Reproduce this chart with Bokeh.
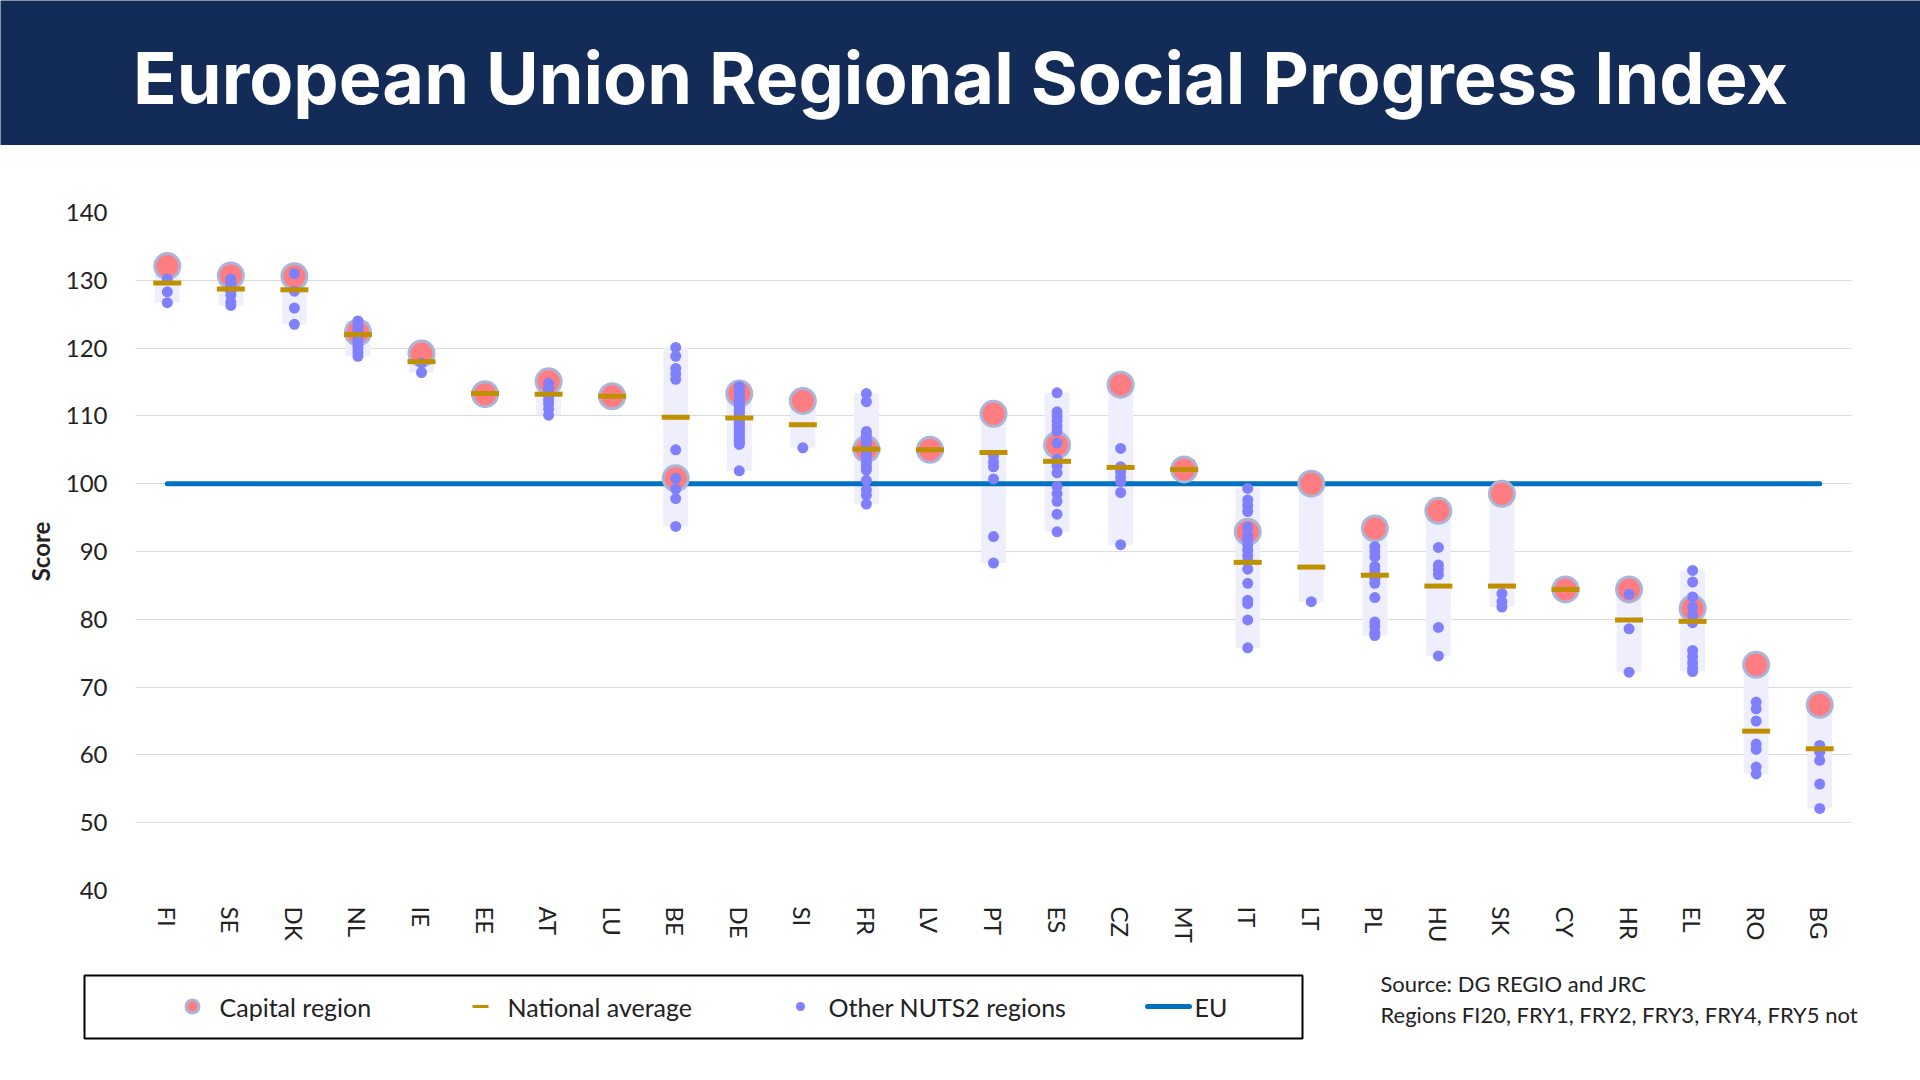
from bokeh.plotting import figure
from bokeh.models import Range1d, FactorRange, ColumnDataSource, Label, FixedTicker
from bokeh.layouts import column
from bokeh.embed import file_html
from bokeh.resources import INLINE

# ---------------- data ----------------
countries = ["FI", "SE", "DK", "NL", "IE", "EE", "AT", "LU", "BE", "DE", "SI", "FR", "LV", "PT",
             "ES", "CZ", "MT", "IT", "LT", "PL", "HU", "SK", "CY", "HR", "EL", "RO", "BG"]

capital_region = [132.1, 130.7, 130.6, 122.3, 119.2, 113.2, 115.1, 112.9, 100.8, 113.3, 112.2, 105.1,
                  105.0, 110.3, 105.7, 114.6, 102.1, 92.9, 100.0, 93.4, 96.0, 98.5, 84.4, 84.4, 81.6,
                  73.3, 67.4]

national_average = [129.6, 128.7, 128.6, 122.0, 118.0, 113.3, 113.2, 112.9, 109.8, 109.7, 108.7, 105.1,
                    105.0, 104.6, 103.3, 102.4, 102.1, 88.4, 87.7, 86.5, 84.9, 84.9, 84.4, 79.9, 79.7,
                    63.5, 60.9]

other_regions = [
    [130.2, 128.3, 126.7],                                                      # FI
    [130.2, 129.8, 129.2, 128.4, 127.8, 126.8, 126.3],                          # SE
    [131.0, 128.4, 125.9, 123.5],                                               # DK
    [124.0, 123.5, 123.0, 122.5, 122.0, 121.5, 121.0, 120.5, 120.0, 119.4, 118.8],  # NL
    [117.8, 116.4],                                                             # IE
    [],                                                                         # EE
    [114.8, 114.2, 113.6, 113.0, 112.4, 111.8, 111.0, 110.1],                   # AT
    [],                                                                         # LU
    [120.1, 118.8, 117.0, 116.2, 115.4, 105.0, 100.8, 99.2, 97.8, 93.7],        # BE
    [114.3, 114.0, 113.6, 113.2, 112.9, 112.6, 112.3, 112.0, 111.8, 111.5, 111.2, 111.0,
     110.7, 110.4, 110.1, 109.8, 109.5, 109.2, 108.9, 108.6, 108.3, 108.0, 107.7, 107.4,
     107.1, 106.8, 106.5, 106.2, 106.0, 105.8, 101.9],                          # DE
    [105.3],                                                                    # SI
    [113.3, 112.1, 107.7, 107.2, 106.6, 106.0, 105.4, 104.8, 104.2, 103.6, 103.0, 102.4,
     102.0, 100.5, 99.1, 98.3, 97.0],                                           # FR
    [],                                                                         # LV
    [104.1, 103.2, 102.5, 100.7, 92.2, 88.3],                                   # PT
    [113.4, 110.6, 110.0, 109.3, 108.5, 107.8, 106.0, 103.6, 102.6, 101.6, 99.6, 98.5,
     97.4, 95.5, 92.9],                                                         # ES
    [105.2, 102.5, 101.8, 101.0, 100.3, 98.7, 91.0],                            # CZ
    [],                                                                         # MT
    [99.3, 97.6, 96.8, 95.9, 93.6, 92.4, 91.8, 91.0, 90.2, 89.4, 88.6, 87.4, 85.3, 82.8,
     82.3, 79.9, 75.8],                                                         # IT
    [82.6],                                                                     # LT
    [90.7, 90.0, 89.2, 87.8, 87.3, 86.7, 86.0, 85.3, 83.2, 79.6, 78.9, 78.0, 77.6],  # PL
    [90.6, 88.0, 87.3, 86.6, 78.8, 74.6],                                       # HU
    [83.8, 82.6, 81.8],                                                         # SK
    [],                                                                         # CY
    [83.7, 78.6, 72.2],                                                         # HR
    [87.2, 85.5, 83.3, 81.8, 80.6, 79.5, 75.4, 74.5, 73.6, 72.8, 72.3],         # EL
    [67.8, 66.8, 65.0, 61.6, 60.8, 58.2, 57.2],                                 # RO
    [61.4, 60.4, 59.2, 55.7, 52.1],                                             # BG
]

eu_value = 100
y_ticks = [40, 50, 60, 70, 80, 90, 100, 110, 120, 130, 140]

title_text = "European Union Regional Social Progress Index"
legend_labels = ["Capital region", "National average", "Other NUTS2 regions", "EU"]
source_lines = ["Source: DG REGIO and JRC", "Regions FI20, FRY1, FRY2, FRY3, FRY4, FRY5 not"]

# ---------------- styles ----------------
W = 1920
HH, MH, FH = 145, 810, 125
NAVY = "#132B57"
CAP_FILL = "#FF7C80"
CAP_RING = "#A9B6DA"
DOT = "#8080FF"
GOLD = "#BF9000"
EU_BLUE = "#0070C0"
BAR = "#EEEEFC"
FONT = "Lato"
TXT = "#222222"

# ---------------- header ----------------
head = figure(width=W, height=HH, x_range=Range1d(0, W), y_range=Range1d(0, HH),
              toolbar_location=None, output_backend="svg", x_axis_location=None,
              y_axis_location=None, min_border=0, outline_line_color=None,
              background_fill_color=NAVY, border_fill_color=NAVY)
head.frame_align = False
head.grid.visible = False
head.add_layout(Label(x=W / 2, y=68, text=title_text,
                      text_color="white", text_font="Inter", text_font_style="bold",
                      text_font_size="72px", text_align="center", text_baseline="alphabetic"))

# ---------------- main chart ----------------
lo = [min([c] + o) for c, o in zip(capital_region, other_regions)]
hi = [max([c] + o) for c, o in zip(capital_region, other_regions)]
src = ColumnDataSource(dict(country=countries, cap=capital_region, nat=national_average, lo=lo, hi=hi))

ox, oy = [], []
for c, vals in zip(countries, other_regions):
    for v in vals:
        ox.append(c)
        oy.append(v)

p = figure(width=W, height=MH, x_range=FactorRange(*countries, range_padding=0),
           y_range=Range1d(40, 140), toolbar_location=None, output_backend="svg",
           min_border_left=135, min_border_right=69, min_border_top=67, min_border_bottom=65,
           outline_line_color=None)
p.frame_align = False

p.vbar(x="country", bottom="lo", top="hi", width=0.39, source=src, fill_color=BAR,
       line_color=None)
p.line(x=[countries[0], countries[-1]], y=[eu_value, eu_value], line_color=EU_BLUE,
       line_width=5, line_cap="round")
p.scatter(x="country", y="cap", source=src, size=25, fill_color=CAP_FILL,
          line_color=CAP_RING, line_width=3)
p.scatter(x=ox, y=oy, size=11, fill_color=DOT, line_color=None)
p.rect(x="country", y="nat", width=0.44, height=5, height_units="screen", source=src,
       fill_color=GOLD, line_color=None)

p.xgrid.visible = False
p.ygrid.grid_line_color = "#DCDCDC"
p.ygrid.grid_line_width = 1
p.yaxis.ticker = FixedTicker(ticks=y_ticks)
for ax in (p.xaxis, p.yaxis):
    ax.axis_line_color = None
    ax.major_tick_line_color = None
    ax.minor_tick_line_color = None
    ax.major_label_text_font = FONT
    ax.major_label_text_font_size = "24px"
    ax.major_label_text_color = TXT
p.yaxis.major_label_standoff = 22
p.yaxis.axis_label = "Score"
p.yaxis.axis_label_text_font = FONT
p.yaxis.axis_label_text_font_style = "bold"
p.yaxis.axis_label_text_font_size = "24px"
p.yaxis.axis_label_text_color = TXT
p.yaxis.axis_label_standoff = 8
p.xaxis.major_label_orientation = "vertical"
p.xaxis.major_label_standoff = 10

# ---------------- footer: legend + source ----------------
foot = figure(width=W, height=FH, x_range=Range1d(0, W), y_range=Range1d(0, FH),
              toolbar_location=None, output_backend="svg", x_axis_location=None,
              y_axis_location=None, min_border=0, outline_line_color=None)
foot.frame_align = False
foot.grid.visible = False
foot.quad(left=[84], right=[1302], bottom=[42], top=[105], fill_color=None,
          line_color="black", line_width=2)
ly = 74
foot.scatter(x=[192], y=[ly], size=13, fill_color=CAP_FILL, line_color=CAP_RING, line_width=3)
foot.rect(x=[480], y=[ly], width=16, height=3, fill_color=GOLD, line_color=None)
foot.scatter(x=[800], y=[ly], size=9, fill_color=DOT, line_color=None)
foot.line(x=[1147, 1189], y=[ly, ly], line_color=EU_BLUE, line_width=5, line_cap="round")
for lx, txt in zip([219, 507, 828, 1194], legend_labels):
    foot.add_layout(Label(x=lx, y=ly, text=txt,
                          text_font=FONT, text_font_size="25px", text_color=TXT,
                          text_baseline="middle", text_align="left"))
for sy, txt in zip([97, 66], source_lines):
    foot.add_layout(Label(x=1380, y=sy, text=txt,
                          text_font=FONT, text_font_size="22px", text_color=TXT,
                          text_baseline="middle", text_align="left"))

layout = column(head, p, foot, spacing=0)
open("out.html", "w").write(file_html(layout, INLINE))
